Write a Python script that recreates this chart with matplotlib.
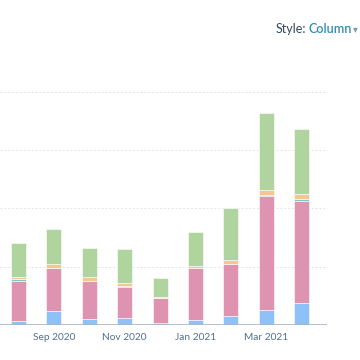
import matplotlib.pyplot as plt
import numpy as np

months = ["Aug 2020", "Sep 2020", "Oct 2020", "Nov 2020", "Dec 2020",
          "Jan 2021", "Feb 2021", "Mar 2021", "Apr 2021"]
blue = [3.4, 12.0, 5.4, 6.2, 2.0, 4.3, 8.0, 12.8, 18.8]
pink = [34.5, 36.8, 32.3, 26.5, 21.4, 44.5, 44.3, 97.6, 87.6]
teal = [1.2, 0.0, 0.0, 1.1, 0.0, 0.0, 0.0, 1.1, 1.7]
orange = [2.0, 3.7, 3.4, 2.0, 0.4, 2.0, 3.7, 4.5, 4.5]
green = [28.8, 30.0, 24.8, 29.1, 16.5, 28.5, 43.9, 65.7, 55.0]
grid_vals = [50, 100, 150, 200]

plt.rcParams['font.family'] = ['Lato', 'DejaVu Sans']

fig = plt.figure(figsize=(3.6, 3.6), dpi=100)
ax = fig.add_axes([0, 35 / 360, 327 / 360, 233.5 / 360])

x = np.arange(len(months))
bottom = np.zeros(len(months))
series = [(blue, '#8ec1f7'), (pink, '#de94b0'), (teal, '#7cc8c8'),
          (orange, '#f4c692'), (green, '#afd49d')]
for vals, col in series:
    ax.bar(x, vals, width=0.424, bottom=bottom, color=col,
           edgecolor='white', linewidth=0.4, zorder=3)
    bottom += np.array(vals)

for g in grid_vals:
    ax.axhline(g, color='#e3e6ee', lw=0.7, ls=(0, (2, 2)), zorder=1, clip_on=False)
ax.axhline(0, color='#a9b4c8', lw=1.2, zorder=4)

ax.set_xlim(-0.523, 8.715)
ax.set_ylim(0, 200)
ax.set_yticks([])
ax.set_xticks(x[1::2])
ax.set_xticklabels(months[1::2], fontsize=7.3, color='#516f90')
ax.tick_params(axis='x', length=0, pad=6)
for s in ax.spines.values():
    s.set_visible(False)

fig.text(0.765, 0.92, "Style:", fontsize=9, color='#33475b', va='center')
fig.text(0.858, 0.92, "Column", fontsize=9, color='#2f8db0', va='center',
         fontweight='semibold')
fig.text(0.995, 0.918, "\u25be", fontsize=7, color='#7c98b6', va='center', ha='right')

fig.savefig("out.png", dpi=100)
